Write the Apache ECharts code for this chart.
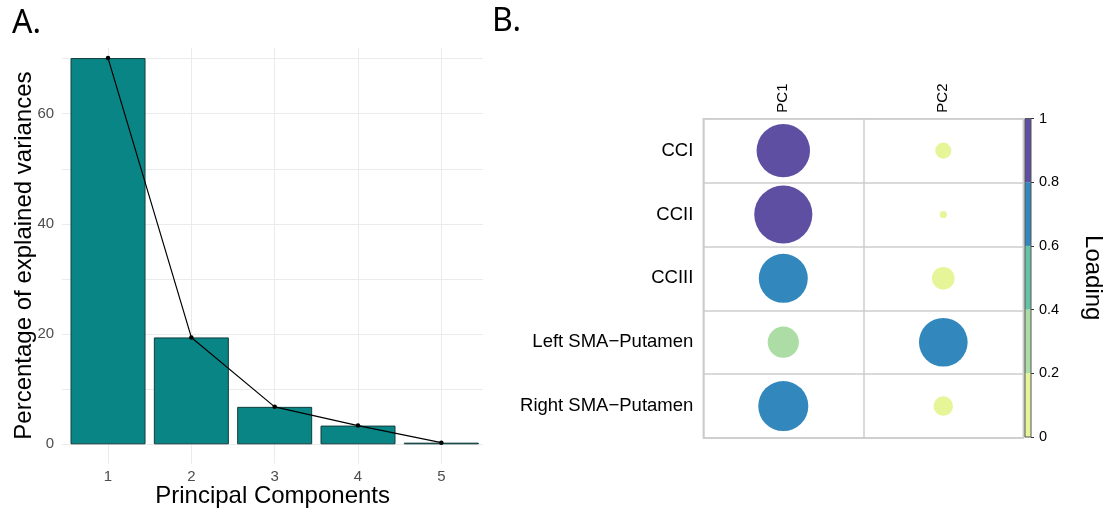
<!DOCTYPE html>
<html><head><meta charset="utf-8">
<script src="https://cdn.jsdelivr.net/npm/echarts@6/dist/echarts.min.js"></script>
<style>html,body{margin:0;padding:0;background:#fff;} #c{width:1113px;height:512px;}</style>
</head><body><div id="c"></div>
<script>
// ---- Panel A data ----
const components = [1, 2, 3, 4, 5];
const explainedVariance = [70.1, 19.4, 6.8, 3.4, 0.3];
// ---- Panel B data ----
const variables = ['CCI', 'CCII', 'CCIII', 'Left SMA\u2212Putamen', 'Right SMA\u2212Putamen'];
const pcNames = ['PC1', 'PC2'];
const loadingPC1 = [0.82, 0.97, 0.69, 0.28, 0.72];
const loadingPC2 = [0.074, 0.015, 0.148, 0.68, 0.11];
// ---- colour scale ----
const colorBreaks = [0, 0.2, 0.4, 0.6, 0.8, 1];
const palette = ['#E6F598', '#ABDDA4', '#66C2A5', '#3288BD', '#5E4FA2'];

const FONT = 'Liberation Sans';
const barData = components.map((c, i) => [c, explainedVariance[i]]);
const loadings = [loadingPC1, loadingPC2];
const scatterData = [];
variables.forEach((v, r) => { loadings.forEach((arr, c) => scatterData.push([c, r, arr[r]])); });

const pieces = palette.map((col, i) => {
  const p = { gte: colorBreaks[i], color: col };
  if (i === palette.length - 1) p.lte = colorBreaks[i + 1]; else p.lt = colorBreaks[i + 1];
  return p;
});

const colorbarSeries = palette.map((col, i) => ({
  type: 'bar', xAxisIndex: 2, yAxisIndex: 2, stack: 'cb',
  data: [colorBreaks[i + 1] - colorBreaks[i]],
  barWidth: '100%', itemStyle: { color: col }, silent: true
}));

const chart = echarts.init(document.getElementById('c'));
chart.setOption({
  backgroundColor: '#fff',
  animation: false,
  graphic: [
    { type: 'text', x: 12, y: 24, style: { text: 'A.', fontSize: 32, fontFamily: 'Noto Sans', fill: '#000', verticalAlign: 'middle' } },
    { type: 'text', x: 492, y: 22, style: { text: 'B.', fontSize: 32, fontFamily: 'Noto Sans', fill: '#000', verticalAlign: 'middle' } }
  ],
  grid: [
    { left: 62.2, top: 47.6, width: 420.8, height: 416, outerBoundsMode: 'none', containLabel: false },
    { left: 703.3, top: 118.7, width: 320, height: 319.3, show: true, borderColor: '#cccccc', borderWidth: 1.5, outerBoundsMode: 'none', containLabel: false },
    { left: 1025, top: 118.5, width: 6, height: 318.5, show: true, borderColor: '#555', borderWidth: 1, z: 10, outerBoundsMode: 'none', containLabel: false }
  ],
  xAxis: [
    { gridIndex: 0, type: 'value', min: 0.45, max: 5.5, minInterval: 1, maxInterval: 1,
      axisLine: { show: false, onZero: false }, axisTick: { show: false },
      axisLabel: { margin: 6, fontSize: 15, color: '#4d4d4d', fontFamily: FONT,
        showMinLabel: false, showMaxLabel: false,
        formatter: v => (Math.abs(v - Math.round(v)) < 1e-9 ? String(v) : '') },
      splitLine: { show: true, showMinLine: false, showMaxLine: false, lineStyle: { color: '#ebebeb', width: 1 } },
      name: 'Principal Components', nameLocation: 'middle', nameGap: 21, nameMoveOverlap: false,
      nameTextStyle: { fontSize: 24, color: '#000', fontFamily: FONT } },
    { gridIndex: 1, type: 'category', data: pcNames, position: 'top',
      axisLine: { show: false }, axisTick: { show: false },
      axisLabel: { rotate: -90, margin: 6, fontSize: 15, color: '#000', fontFamily: FONT },
      splitLine: { show: true, lineStyle: { color: '#cccccc', width: 1.5 } } },
    { gridIndex: 2, type: 'category', data: ['c'], show: false }
  ],
  yAxis: [
    { gridIndex: 0, type: 'value', min: -3.5, max: 72, minInterval: 10, maxInterval: 10,
      axisLine: { show: false }, axisTick: { show: false },
      axisLabel: { margin: 8, fontSize: 15, color: '#4d4d4d', fontFamily: FONT,
        showMinLabel: false, showMaxLabel: false,
        formatter: v => (v >= 0 && Math.abs(v % 20) < 1e-9 ? String(v) : '') },
      splitLine: { show: true, showMinLine: false, showMaxLine: false, lineStyle: { color: '#ebebeb', width: 1 } },
      name: 'Percentage of explained variances', nameLocation: 'middle', nameGap: 26, nameMoveOverlap: false,
      nameTextStyle: { fontSize: 24, color: '#000', fontFamily: FONT } },
    { gridIndex: 1, type: 'category', data: variables, inverse: true,
      axisLine: { show: false }, axisTick: { show: false },
      axisLabel: { margin: 10, fontSize: 18.5, color: '#000', fontFamily: FONT },
      splitLine: { show: true, lineStyle: { color: '#cccccc', width: 1.5 } } },
    { gridIndex: 2, type: 'value', min: 0, max: 1, interval: 0.2, position: 'right',
      axisLine: { show: false }, splitLine: { show: false },
      axisTick: { show: true, length: 3, lineStyle: { color: '#333', width: 1 } },
      axisLabel: { margin: 8, fontSize: 14.5, color: '#000', fontFamily: FONT },
      name: 'Loading', nameLocation: 'middle', nameRotate: -90, nameGap: 50, nameMoveOverlap: false,
      nameTextStyle: { fontSize: 24, color: '#000', fontFamily: FONT } }
  ],
  visualMap: [{ type: 'piecewise', show: false, seriesIndex: 2, dimension: 2, pieces: pieces }],
  series: [
    { type: 'bar', xAxisIndex: 0, yAxisIndex: 0, data: barData, barWidth: 75,
      itemStyle: { color: '#0a8585', borderColor: '#123c3c', borderWidth: 1 } },
    { type: 'line', xAxisIndex: 0, yAxisIndex: 0, data: barData, symbol: 'circle', symbolSize: 4.5,
      itemStyle: { color: '#000' }, lineStyle: { color: '#000', width: 1.2 }, z: 5 },
    { type: 'scatter', xAxisIndex: 1, yAxisIndex: 1, data: scatterData,
      itemStyle: { opacity: 1 },
      symbolSize: d => 59 * Math.sqrt(d[2]) }
  ].concat(colorbarSeries)
});
</script>
</body></html>
